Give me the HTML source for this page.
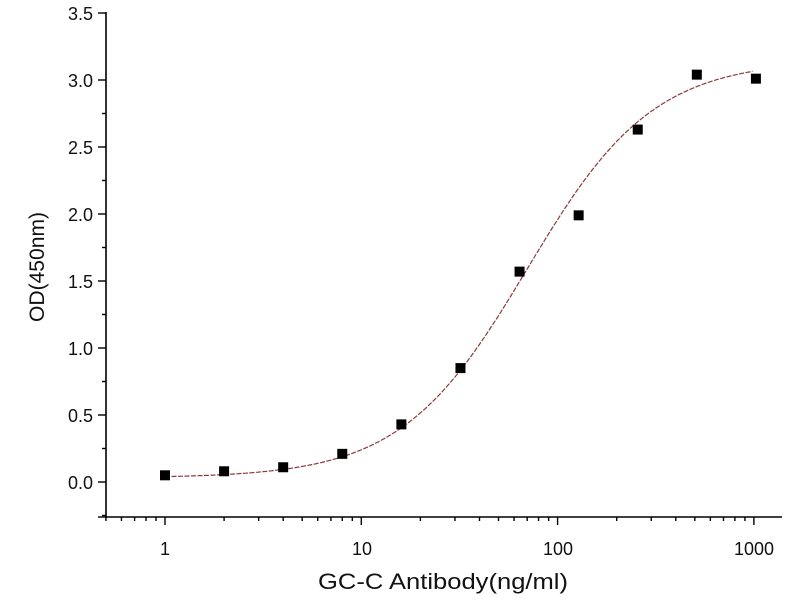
<!DOCTYPE html>
<html><head><meta charset="utf-8"><style>
body{margin:0;background:#fff;width:800px;height:600px;overflow:hidden}
svg text{font-family:"Liberation Sans",sans-serif;fill:#111}
</style></head><body>
<svg id="s" width="800" height="600" viewBox="0 0 800 600" xmlns="http://www.w3.org/2000/svg">
<g stroke="#000" stroke-width="1.6" fill="none">
<line x1="106" y1="12" x2="106" y2="518"/>
<line x1="105" y1="517" x2="782" y2="517"/>
</g>
<g id="ticks" stroke="#000" stroke-width="1.4"></g>
<g font-size="18" text-anchor="end">
<text x="93" y="20">3.5</text><text x="93" y="87">3.0</text><text x="93" y="154">2.5</text>
<text x="93" y="221">2.0</text><text x="93" y="288">1.5</text><text x="93" y="355">1.0</text>
<text x="93" y="422">0.5</text><text x="93" y="489">0.0</text>
</g>
<g font-size="18" text-anchor="middle">
<text x="165" y="555">1</text><text x="362" y="555">10</text><text x="558" y="555">100</text><text x="754" y="555">1000</text>
</g>
<text x="318" y="589" font-size="22" textLength="250" lengthAdjust="spacingAndGlyphs">GC-C Antibody(ng/ml)</text>
<text transform="translate(44,322) rotate(-90)" font-size="21" textLength="110" lengthAdjust="spacingAndGlyphs">OD(450nm)</text>
<path id="curve" fill="none" stroke="#8b3a3a" stroke-width="1.2" stroke-dasharray="5 1.5"/>
<g id="pts" fill="#000"></g>
</svg>
<script>
var X=function(v){return 165+196.3*Math.log10(v)},Y=function(v){return 482-134*v};
var t=document.getElementById('ticks'),h='';
for(var i=-1;i<4;i++){for(var k=1;k<10;k++){var v=k*Math.pow(10,i);if(v<0.5||v>1600)continue;var x=X(v);if(x>781)continue;var L=(k==1)?8:4;h+='<line x1="'+x+'" y1="517" x2="'+x+'" y2="'+(517+L)+'"/>';}}
for(var j=0;j<=7;j++){h+='<line x1="98" y1="'+(482-67*j)+'" x2="106" y2="'+(482-67*j)+'"/>';}
for(var j=0;j<7;j++){var y=482-67*j+33.5;h+='<line x1="102" y1="'+y+'" x2="106" y2="'+y+'"/>';}
h+='<line x1="98" y1="517" x2="106" y2="517"/>';
t.innerHTML=h;
var d='';for(var v=1;v<=1000;v*=1.02){var y=3.15+(0.03-3.15)/(1+Math.pow(v/70,1.35));d+=(d?'L':'M')+X(v).toFixed(1)+' '+Y(y).toFixed(1);}
document.getElementById('curve').setAttribute('d',d);
var ys=[0.05,0.08,0.11,0.21,0.43,0.85,1.57,1.99,2.63,3.04,3.01],p='';
for(var i=0;i<ys.length;i++){var x=X(Math.pow(2,i)),y=Y(ys[i]);p+='<rect x="'+(x-5)+'" y="'+(y-5)+'" width="10" height="10"/>';}
document.getElementById('pts').innerHTML=p;
</script>
</body></html>
